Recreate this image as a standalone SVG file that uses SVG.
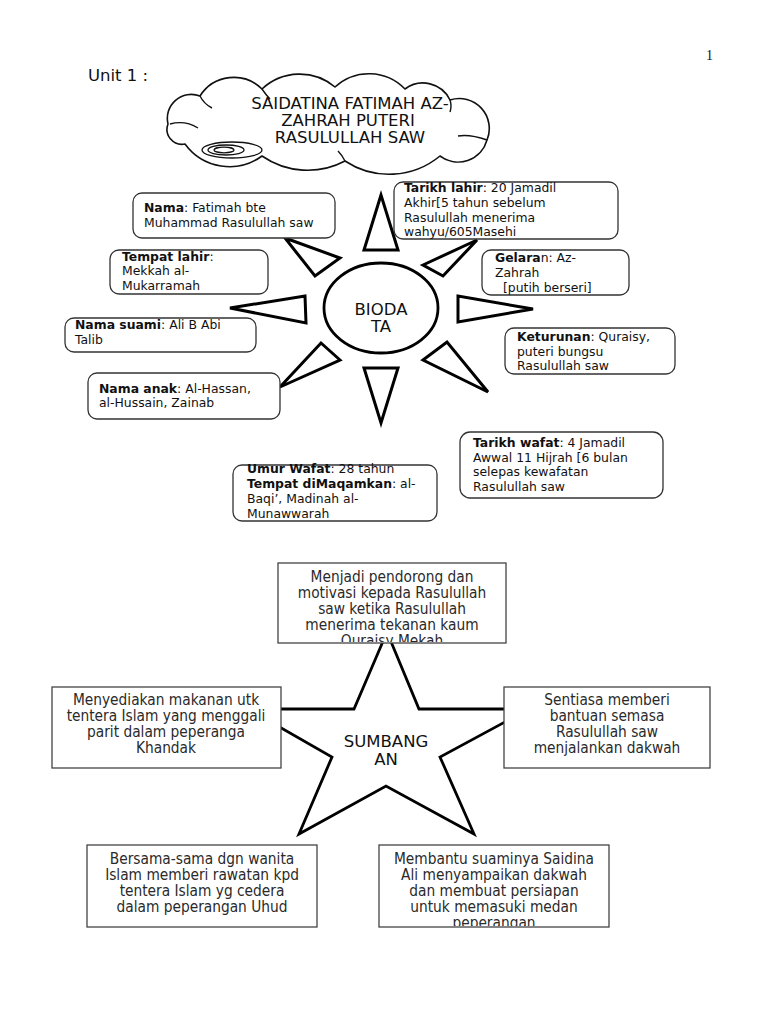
<svg xmlns="http://www.w3.org/2000/svg" width="768" height="1024" viewBox="0 0 768 1024">
<style>
.bg{fill:#fff}
.t{font-family:"DejaVu Sans","Noto Sans",sans-serif;font-size:12.4px;fill:#111}
.b{font-weight:bold}
.rb{fill:#fff;stroke:#333;stroke-width:1.3}
.ray{fill:#fff;stroke:#000;stroke-width:3;stroke-linejoin:miter}
.hd{font-family:"DejaVu Sans","Noto Sans",sans-serif;font-size:16.5px;fill:#111;text-anchor:middle}
.sb{fill:#fff;stroke:#444;stroke-width:1.3}
.st{font-family:"DejaVu Sans Condensed","DejaVu Sans",sans-serif;font-stretch:condensed;font-size:15.3px;fill:#2a2a2a;text-anchor:middle}
.cl{fill:#fff;stroke:#111;stroke-width:1.6;stroke-linejoin:round}
.cli{fill:none;stroke:#111;stroke-width:1.4}
</style>
<defs>
<clipPath id="c1"><rect x="279" y="564" width="226" height="78"/></clipPath>
<clipPath id="c2"><rect x="380" y="846" width="228" height="80"/></clipPath>
</defs>
<rect class="bg" x="0" y="0" width="768" height="1024"/>
<text x="706" y="60" style="font-family:'Liberation Serif',serif;font-size:14px;fill:#111">1</text>
<text x="88" y="81" style="font-family:'DejaVu Sans',sans-serif;font-size:16.5px;fill:#111">Unit 1 :</text>

<g id="title">
<path class="cl" d="M168,124 A24,24 0 0 1 200,96 A40,40 0 0 1 262,89 A55,55 0 0 1 335,87 A50,50 0 0 1 405,89 A30,30 0 0 1 450,100 A30,30 0 0 1 487,140 A30,30 0 0 1 440,156 A80,80 0 0 1 345,161 A80,80 0 0 1 262,156 A55,55 0 0 1 185,144 A15,15 0 0 1 168,124 Z"/>
<path class="cli" d="M170,124 Q185,120 198,128"/>
<path class="cli" d="M200,96 Q204,104 212,108"/>
<path class="cli" d="M262,89 Q266,95 270,99"/>
<path class="cli" d="M450,100 Q452,106 450,112"/>
<path class="cli" d="M487,140 Q470,134 458,136"/>
<path class="cli" d="M345,161 Q342,155 338,151"/>
<ellipse cx="232" cy="150" rx="30" ry="8" fill="#fff" stroke="#111" stroke-width="1.3"/>
<ellipse cx="226" cy="150" rx="18" ry="5" fill="none" stroke="#111" stroke-width="1.3"/>
<ellipse cx="224" cy="150" rx="10" ry="2.8" fill="none" stroke="#111" stroke-width="1.3"/>
<text class="hd" x="350" y="109">SAIDATINA FATIMAH AZ-</text>
<text class="hd" x="348" y="126">ZAHRAH PUTERI</text>
<text class="hd" x="350" y="143">RASULULLAH SAW</text>
</g>

<g id="connectors">
<polygon class="ray" points="381,195 364,250 398,250"/>
<polygon class="ray" points="477,240 423,265 443,276"/>
<polygon class="ray" points="285,238 340,258 315,276"/>
<polygon class="ray" points="230,308 305,296 306,323"/>
<polygon class="ray" points="533,309 458,296 458,322"/>
<polygon class="ray" points="423,360 447,342 488,392"/>
<polygon class="ray" points="364,368 398,368 381,423"/>
<polygon class="ray" points="340,360 321,343 280,387"/>
</g>

<g id="biodata">
<ellipse cx="381" cy="308" rx="57" ry="45" fill="#fff" stroke="#000" stroke-width="2.8"/>
<text class="hd" x="381" y="315">BIODA</text>
<text class="hd" x="381" y="332">TA</text>
</g>

<g id="nama">
<rect class="rb" x="133" y="193" width="202" height="45" rx="9"/>
<text class="t" x="144" y="212"><tspan class="b">Nama</tspan>: Fatimah bte</text>
<text class="t" x="144" y="227">Muhammad Rasulullah saw</text>
</g>
<g id="tarikh-lahir">
<rect class="rb" x="394" y="182" width="224" height="57" rx="9"/>
<text class="t" x="404" y="192"><tspan class="b">Tarikh lahir</tspan>: 20 Jamadil</text>
<text class="t" x="404" y="207">Akhir[5 tahun sebelum</text>
<text class="t" x="404" y="222">Rasulullah menerima</text>
<text class="t" x="404" y="236">wahyu/605Masehi</text>
</g>
<g id="tempat-lahir">
<rect class="rb" x="110" y="250" width="158" height="44" rx="9"/>
<text class="t" x="122" y="261"><tspan class="b">Tempat lahir</tspan>:</text>
<text class="t" x="122" y="275">Mekkah al-</text>
<text class="t" x="122" y="290">Mukarramah</text>
</g>
<g id="gelaran">
<rect class="rb" x="482" y="250" width="147" height="45" rx="9"/>
<text class="t" x="495" y="262"><tspan class="b">Gelara</tspan>n: Az-</text>
<text class="t" x="495" y="277">Zahrah</text>
<text class="t" x="503" y="292">[putih berseri]</text>
</g>
<g id="nama-suami">
<rect class="rb" x="65" y="318" width="191" height="34" rx="9"/>
<text class="t" x="75" y="329"><tspan class="b">Nama suami</tspan>: Ali B Abi</text>
<text class="t" x="75" y="344">Talib</text>
</g>
<g id="keturunan">
<rect class="rb" x="505" y="328" width="170" height="46" rx="9"/>
<text class="t" x="517" y="341"><tspan class="b">Keturunan</tspan>: Quraisy,</text>
<text class="t" x="517" y="356">puteri bungsu</text>
<text class="t" x="517" y="370">Rasulullah saw</text>
</g>
<g id="nama-anak">
<rect class="rb" x="88" y="373" width="192" height="46" rx="9"/>
<text class="t" x="99" y="393"><tspan class="b">Nama anak</tspan>: Al-Hassan,</text>
<text class="t" x="99" y="407">al-Hussain, Zainab</text>
</g>
<g id="tarikh-wafat">
<rect class="rb" x="460" y="432" width="203" height="66" rx="10"/>
<text class="t" x="473" y="447"><tspan class="b">Tarikh wafat</tspan>: 4 Jamadil</text>
<text class="t" x="473" y="462">Awwal 11 Hijrah [6 bulan</text>
<text class="t" x="473" y="476">selepas kewafatan</text>
<text class="t" x="473" y="491">Rasulullah saw</text>
</g>
<g id="umur-wafat">
<rect class="rb" x="233" y="465" width="204" height="56" rx="9"/>
<text class="t" x="247" y="473"><tspan class="b">Umur Wafat</tspan>: 28 tahun</text>
<text class="t" x="247" y="488"><tspan class="b">Tempat diMaqamkan</tspan>: al-</text>
<text class="t" x="247" y="503">Baqi’, Madinah al-</text>
<text class="t" x="247" y="518">Munawwarah</text>
</g>

<g id="sumbangan">
<polygon points="387,632 419,709 529,709 440,757 474,834 386,786 299,834 332,757 248,709 354,709" fill="#fff" stroke="#000" stroke-width="2.8" stroke-linejoin="miter"/>
<text class="hd" x="386" y="747">SUMBANG</text>
<text class="hd" x="386" y="765">AN</text>
</g>

<g id="s-top">
<rect class="sb" x="278" y="563" width="228" height="80"/>
<g clip-path="url(#c1)">
<text class="st" x="392" y="582">Menjadi pendorong dan</text>
<text class="st" x="392" y="598">motivasi kepada Rasulullah</text>
<text class="st" x="392" y="614">saw ketika Rasulullah</text>
<text class="st" x="392" y="630">menerima tekanan kaum</text>
<text class="st" x="392" y="646">Quraisy Mekah</text>
</g>
</g>
<g id="s-left">
<rect class="sb" x="52" y="687" width="229" height="81"/>
<text class="st" x="166" y="705">Menyediakan makanan utk</text>
<text class="st" x="166" y="721">tentera Islam yang menggali</text>
<text class="st" x="166" y="737">parit dalam peperanga</text>
<text class="st" x="166" y="753">Khandak</text>
</g>
<g id="s-right">
<rect class="sb" x="504" y="687" width="206" height="81"/>
<text class="st" x="607" y="705">Sentiasa memberi</text>
<text class="st" x="607" y="721">bantuan semasa</text>
<text class="st" x="607" y="737">Rasulullah saw</text>
<text class="st" x="607" y="753">menjalankan dakwah</text>
</g>
<g id="s-bottom-left">
<rect class="sb" x="87" y="845" width="230" height="82"/>
<text class="st" x="202" y="864">Bersama-sama dgn wanita</text>
<text class="st" x="202" y="880">Islam memberi rawatan kpd</text>
<text class="st" x="202" y="896">tentera Islam yg cedera</text>
<text class="st" x="202" y="912">dalam peperangan Uhud</text>
</g>
<g id="s-bottom-right">
<rect class="sb" x="379" y="845" width="230" height="82"/>
<g clip-path="url(#c2)">
<text class="st" x="494" y="864">Membantu suaminya Saidina</text>
<text class="st" x="494" y="880">Ali menyampaikan dakwah</text>
<text class="st" x="494" y="896">dan membuat persiapan</text>
<text class="st" x="494" y="912">untuk memasuki medan</text>
<text class="st" x="494" y="928">peperangan</text>
</g>
</g>
</svg>
